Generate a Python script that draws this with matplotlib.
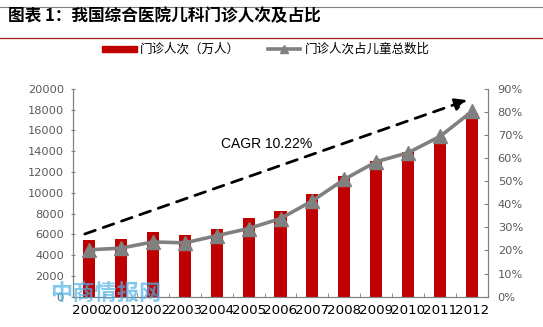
import matplotlib
matplotlib.use("Agg")
import matplotlib.pyplot as plt
from matplotlib import font_manager
from matplotlib.lines import Line2D
from matplotlib.patches import Rectangle
from matplotlib.ticker import FuncFormatter, FixedLocator

years = ['2000', '2001', '2002', '2003', '2004', '2005', '2006',
         '2007', '2008', '2009', '2010', '2011', '2012']
visits = [5450, 5550, 6220, 5960, 6510, 7540, 8240, 9870, 11600, 13070, 13880, 15230, 17630]
share = [20.3, 21.0, 23.7, 23.3, 26.4, 29.5, 33.8, 41.5, 50.8, 58.4, 62.3, 69.4, 80.2]

title = '图表 1：我国综合医院儿科门诊人次及占比'
bar_label = '门诊人次（万人）'
line_label = '门诊人次占儿童总数比'
cagr_text = 'CAGR 10.22%'
watermark = '中商情报网'

CJK = ['Noto Sans CJK SC', 'DejaVu Sans']
NUM = 'DejaVu Sans'

RED = '#C00000'
GREY = '#808080'
TICK = '#595959'

fig = plt.figure(figsize=(5.43, 3.27), dpi=100)
W, H = 543, 327
ax = fig.add_axes([73 / W, (H - 296.7) / H, (488 - 73) / W, (296.7 - 88.7) / H])
ax2 = ax.twinx()

x = list(range(len(years)))
ax.bar(x, visits, width=0.38, color=RED, zorder=2)
ax.set_xlim(-0.5, len(years) - 0.5)
ax.set_ylim(0, 20000)
ax.set_yticks(range(0, 20001, 2000))
ax.set_xticks(x)
ax.set_xticklabels(years, fontsize=9.6, family=NUM, color='black')
ax.xaxis.set_minor_locator(FixedLocator([i + 0.5 for i in range(-1, len(years))]))
ax.tick_params(axis='x', which='major', length=0, pad=5)
ax.tick_params(axis='x', which='minor', length=3, direction='in', color=GREY)
ax.tick_params(axis='y', length=3, direction='inout', color=GREY, labelcolor=TICK, pad=5)
for lab in ax.get_yticklabels():
    lab.set_family(NUM)
    lab.set_fontsize(8.2)

ax2.plot(x, share, color=GREY, lw=2.6, marker='^', markersize=10,
         markerfacecolor=GREY, markeredgecolor=GREY, zorder=3)
ax2.set_ylim(0, 90)
ax2.set_yticks(range(0, 91, 10))
ax2.yaxis.set_major_formatter(FuncFormatter(lambda v, p: f'{int(v)}%'))
ax2.tick_params(axis='y', length=3, direction='in', color=GREY, labelcolor=TICK, pad=7)
for lab in ax2.get_yticklabels():
    lab.set_family(NUM)
    lab.set_fontsize(8.2)

for a in (ax, ax2):
    a.spines['top'].set_visible(False)
    a.spines['left'].set_color(GREY)
    a.spines['right'].set_color(GREY)
    a.spines['bottom'].set_color(GREY)

# CAGR dashed arrow
ax.annotate('', xy=(11.85, 18900), xytext=(-0.13, 6030),
            arrowprops=dict(arrowstyle='-|>', color='black', lw=2,
                            linestyle=(0, (4, 3)), mutation_scale=18,
                            shrinkA=0, shrinkB=0), zorder=4)
ax.text(4.15, 14700, cagr_text, fontsize=10, family='Liberation Sans',
        ha='left', va='center', color='black')

# Header lines and title
fig.add_artist(Line2D([0, 1], [1 - 7 / H, 1 - 7 / H], color='#7F7F7F', lw=0.8,
                      transform=fig.transFigure))
fig.add_artist(Line2D([0, 1], [1 - 38 / H, 1 - 38 / H], color='#A31B1B', lw=0.9,
                      transform=fig.transFigure))
fig.text(8 / W, 1 - 16 / H, title, fontsize=12, fontweight='bold',
         family=CJK, ha='left', va='center', color='black')

# Legend
ly = 1 - 49 / H
fig.add_artist(Rectangle((102 / W, ly - 3 / H), 35 / W, 6 / H, color=RED,
                         transform=fig.transFigure))
fig.text(140 / W, ly, bar_label, fontsize=9, family=CJK, va='center', ha='left')
fig.add_artist(Line2D([268 / W, 300 / W], [ly, ly], color=GREY, lw=2.6,
                      transform=fig.transFigure))
fig.add_artist(Line2D([284 / W], [ly], color=GREY, marker='^', markersize=6,
                      transform=fig.transFigure))
fig.text(305 / W, ly, line_label, fontsize=9, family=CJK, va='center', ha='left')

# Watermark
fig.text(50 / W, 1 - 293 / H, watermark, fontsize=16, fontweight='bold',
         family=CJK, color='#4FB3E8', alpha=0.7, ha='left', va='center', zorder=10)

fig.savefig('out.png', dpi=100)
